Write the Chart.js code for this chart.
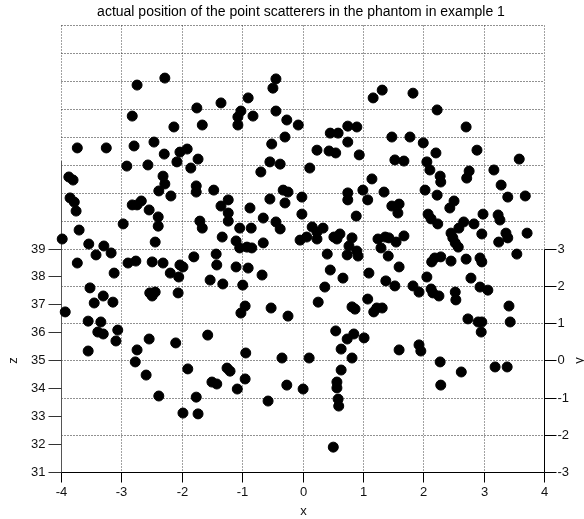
<!DOCTYPE html>
<html>
<head>
<meta charset="utf-8">
<script src="https://cdn.jsdelivr.net/npm/chart.js@4.4.0/dist/chart.umd.min.js"></script>
<style>
  html, body { margin: 0; padding: 0; background: #fff; }
  #wrap { width: 584px; height: 519px; position: relative; }
</style>
</head>
<body>
<div id="wrap"><canvas id="myChart" width="584" height="519"></canvas></div>
<script>
// axis ticks
var xTicks = [-4, -3, -2, -1, 0, 1, 2, 3, 4];
var zTicks = [31, 32, 33, 34, 35, 36, 37, 38, 39];
var yTicks = [-3, -2, -1, 0, 1, 2, 3];
var backGrid = [40, 41, 42, 43, 44, 45, 46];
var zTop = 47;
var zAxisTop = 42.17;

// scatterer positions as seen in the view: [x, z]
var points = [
  [-2.28,45.10],[-2.74,44.85],[-0.44,45.07],[-0.49,44.74],[-0.90,44.39],[-1.35,44.21],
  [-1.75,44.03],[-2.82,43.74],[-1.02,43.92],[-1.07,43.71],[-1.07,43.42],[-0.82,43.74],
  [-0.44,43.92],[-0.26,43.60],[-0.07,43.42],[-1.66,43.42],[-2.13,43.35],[1.32,44.67],
  [1.17,44.39],[1.83,44.56],[2.23,43.96],[2.71,43.35],[0.75,43.38],[0.90,43.35],

  [-3.73,42.60],[-3.25,42.60],[-2.79,42.67],[-2.46,42.81],[-2.29,42.38],[-2.03,42.45],
  [-1.91,42.56],[-2.08,42.10],[-1.73,42.20],[-1.85,41.88],[-2.91,41.95],[-2.56,41.99],
  [-0.29,42.99],[-0.51,42.74],[-0.54,42.10],[-0.37,42.02],[-0.69,41.74],[0.46,43.13],
  [0.59,43.13],[0.75,42.81],[0.24,42.52],[0.44,42.49],[0.55,42.42],[0.94,42.35],
  [1.48,42.99],[1.78,42.99],[2.00,42.78],[2.21,42.42],[1.53,42.17],[1.68,42.13],
  [2.06,42.10],[2.89,42.52],[3.59,42.20],[0.12,41.88],[2.11,41.81],[2.76,41.77],[3.17,41.81],

  [-3.87,41.56],[-3.80,41.45],[-3.85,40.81],[-3.78,40.66],[-3.75,40.34],[-3.70,39.66],
  [-2.31,41.59],[-2.28,41.31],[-2.38,41.06],[-2.18,40.88],[-2.82,40.56],[-2.74,40.56],
  [-2.67,40.70],[-2.54,40.38],[-2.39,40.13],[-2.39,39.80],[-2.97,39.88],[-1.76,41.24],
  [-1.76,41.02],[-1.47,41.09],[-1.23,40.74],[-1.35,40.52],[-1.23,40.27],[-1.23,39.98],
  [-1.70,39.98],[-1.66,39.73],[-0.87,40.45],[-0.65,40.09],[-1.04,39.73],[-0.85,39.73],
  [-0.54,40.77],[-0.32,41.09],[-0.24,41.02],[-0.29,40.63],[-0.01,40.84],[-0.44,39.95],
  [-0.37,39.70],[-0.01,40.23],[1.15,41.49],[1.00,41.09],[1.35,41.02],[1.08,40.74],
  [0.75,40.99],[0.75,40.74],[0.89,40.16],[1.48,40.52],[1.60,40.59],[1.58,40.27],
  [0.16,39.77],[0.34,39.73],[0.24,39.59],[2.28,41.59],[2.29,41.38],[2.03,41.09],
  [2.23,40.91],[2.51,40.70],[2.44,40.45],[2.72,41.52],[3.29,41.27],[3.40,40.84],
  [3.69,40.88],[2.99,40.23],[2.08,40.23],[2.13,40.06],[2.24,39.88],[2.84,39.88],
  [2.67,39.95],[2.59,39.73],[3.24,40.20],[3.27,40.02],

  [-3.98,39.34],[-3.54,39.16],[-3.29,39.09],[-3.42,38.77],[-3.17,38.84],[-3.73,38.48],
  [-2.44,39.23],[-2.89,38.48],[-2.76,38.55],[-2.49,38.52],[-2.31,38.48],[-2.03,38.41],
  [-1.98,38.34],[-1.80,38.70],[-1.43,38.80],[-1.42,38.41],[-1.33,39.41],[-1.10,39.27],
  [-1.04,39.02],[-0.92,39.05],[-0.84,39.02],[-0.65,39.20],[-0.04,39.30],[-1.10,38.34],
  [-0.90,38.30],[0.07,39.41],[0.24,39.34],[0.52,39.41],[0.62,39.52],[0.57,39.34],
  [0.82,39.38],[0.77,39.09],[0.90,38.91],[0.92,38.73],[0.74,38.77],[0.41,38.80],
  [1.25,39.34],[1.37,39.41],[1.43,39.38],[1.55,39.23],[1.68,39.45],[1.30,39.02],
  [1.42,38.73],[1.60,38.34],[2.97,39.52],[2.46,39.55],[2.49,39.38],[2.53,39.20],
  [2.58,39.05],[3.37,39.55],[3.40,39.38],[3.25,39.23],[3.72,39.55],[3.55,38.80],
  [2.14,38.52],[2.19,38.66],[2.29,38.70],[2.46,38.55],[2.71,38.62],[2.94,38.66],[2.97,38.52],

  [-3.12,38.12],[-2.19,38.12],[-2.05,37.98],[-1.53,37.87],[-1.32,37.73],[-0.99,37.69],
  [-0.67,38.05],[-3.52,37.59],[-3.30,37.30],[-3.45,37.05],[-3.14,37.08],[-3.93,36.73],
  [-3.55,36.40],[-3.34,36.37],[-3.39,36.01],[-3.30,35.94],[-3.06,36.08],[-3.09,35.69],
  [-3.55,35.33],[-2.53,37.41],[-2.44,37.44],[-2.49,37.30],[-2.06,37.41],[-2.54,35.76],
  [-2.10,35.62],[-2.74,35.37],[-2.77,34.94],[-2.59,34.47],[-1.57,35.90],[-0.95,36.94],
  [-1.02,36.69],[-0.52,36.87],[-0.24,36.58],[-0.94,35.26],[-0.34,35.08],[-1.90,34.69],
  [-1.25,34.72],[-1.20,34.61],[-1.50,34.22],[-1.42,34.15],[-0.95,34.33],[0.46,38.23],
  [0.67,37.94],[1.10,38.12],[0.37,37.62],[0.26,37.08],[0.82,36.91],[0.87,36.83],
  [1.08,37.19],[1.18,36.73],[1.23,36.87],[1.32,36.87],[1.38,37.84],[1.53,37.66],
  [1.83,37.66],[1.93,37.44],[2.06,37.98],[2.13,37.55],[2.16,37.41],[2.26,37.30],
  [2.53,37.44],[2.54,37.16],[2.79,37.94],[2.94,37.62],[3.07,37.51],[3.42,36.94],
  [3.44,36.37],[2.74,36.48],[2.91,36.37],[2.97,36.37],[2.96,36.01],[0.55,36.05],
  [0.85,35.94],[0.74,35.76],[1.02,35.80],[0.64,35.40],[0.11,35.08],[0.82,35.08],
  [1.60,35.37],[1.93,35.55],[1.96,35.33],[2.28,34.94],[2.63,34.58],[3.19,34.76],
  [3.39,34.76],[0.64,34.65],

  [-1.08,33.97],[-0.26,34.11],[0.01,33.97],[-2.38,33.72],[-1.76,33.68],[-1.98,33.11],
  [-1.73,33.08],[-0.57,33.54],[0.57,34.22],[0.57,34.01],[0.59,33.61],[0.60,33.36],
  [0.51,31.89],[2.29,34.11]
];

var FONT = '"Liberation Sans", Arial, sans-serif';

// y (right axis) spans the same height as z 31..39
function yToZ(v) {
  return zTicks[0] + (v - yTicks[0]) * (zTicks[zTicks.length - 1] - zTicks[0]) / (yTicks[yTicks.length - 1] - yTicks[0]);
}

var boxAxes = {
  id: 'boxAxes',
  beforeDatasetsDraw: function (chart) {
    var ctx = chart.ctx;
    var sx = chart.scales.x, sz = chart.scales.y;
    var px = function (v) { return Math.round(sx.getPixelForValue(v)) + 0.5; };
    var pz = function (v) { return Math.round(sz.getPixelForValue(v)) + 0.5; };
    var x0 = px(xTicks[0]), x1 = px(xTicks[xTicks.length - 1]);
    var zb = pz(zTicks[0]);

    function line(a, b, c, d, color, dash) {
      ctx.beginPath();
      ctx.setLineDash(dash || []);
      ctx.strokeStyle = color;
      ctx.lineWidth = 1;
      ctx.moveTo(a, b);
      ctx.lineTo(c, d);
      ctx.stroke();
    }

    ctx.save();
    var dot = [1, 2];
    // vertical grid
    xTicks.slice(1, -1).forEach(function (v) {
      line(px(v), pz(zTop), px(v), zb, '#444', dot);
    });
    // floor grid (y lines)
    yTicks.slice(1).forEach(function (v) {
      line(x0, pz(yToZ(v)), x1, pz(yToZ(v)), '#222', dot);
    });
    // back wall grid
    backGrid.concat([zTop]).forEach(function (v) {
      line(x0, pz(v), x1, pz(v), '#222', dot);
    });
    line(x0, pz(zTop), x0, pz(zAxisTop), '#444', dot);
    line(x1, pz(zTop), x1, pz(zTicks[zTicks.length - 1]), '#444', dot);

    // solid axes
    line(x0, pz(zAxisTop), x0, zb, '#555');
    line(x0, zb, x1, zb, '#000');
    line(x1, pz(yToZ(yTicks[0])), x1, pz(yToZ(yTicks[yTicks.length - 1])), '#000');

    ctx.font = '13px ' + FONT;
    ctx.fillStyle = '#111';

    // z ticks on the left
    ctx.textAlign = 'right';
    ctx.textBaseline = 'middle';
    zTicks.forEach(function (v) {
      line(x0 - 13, pz(v), x0, pz(v), '#333');
      ctx.fillText(String(v), x0 - 16, pz(v));
    });
    // y ticks on the right
    ctx.textAlign = 'left';
    yTicks.forEach(function (v) {
      line(x1, pz(yToZ(v)), x1 + 12, pz(yToZ(v)), '#000');
      ctx.fillText(String(v), x1 + 13, pz(yToZ(v)));
    });
    // x ticks below
    ctx.textAlign = 'center';
    ctx.textBaseline = 'top';
    xTicks.forEach(function (v) {
      line(px(v), zb, px(v), zb + 10, '#000');
      ctx.fillText(String(v), px(v), zb + 13);
    });

    // axis names
    ctx.fillText('x', px(0), zb + 32);
    ctx.textBaseline = 'middle';
    ctx.save();
    ctx.translate(13, pz(35));
    ctx.rotate(-Math.PI / 2);
    ctx.fillText('z', 0, 0);
    ctx.restore();
    ctx.save();
    ctx.translate(579, pz(35));
    ctx.rotate(-Math.PI / 2);
    ctx.fillText('y', 0, 0);
    ctx.restore();

    // title
    ctx.font = '14px ' + FONT;
    ctx.fillStyle = '#000';
    ctx.fillText('actual position of the point scatterers in the phantom in example 1', (x0 + x1) / 2 - 2, 12);
    ctx.restore();
  }
};

var ctx = document.getElementById('myChart');
var chart = new Chart(ctx, {
  type: 'scatter',
  data: {
    datasets: [{
      data: points.map(function (p) { return { x: p[0], y: p[1] }; }),
      pointRadius: 5,
      pointHoverRadius: 5,
      pointBackgroundColor: '#000',
      pointBorderColor: '#000',
      pointBorderWidth: 1,
      clip: false
    }]
  },
  options: {
    responsive: false,
    animation: false,
    layout: { padding: { left: 61, right: 40, top: 25, bottom: 47 } },
    plugins: { legend: { display: false }, tooltip: { enabled: false } },
    scales: {
      x: { type: 'linear', min: -4, max: 4, display: false },
      y: { type: 'linear', min: 31, max: zTop, display: false }
    }
  },
  plugins: [boxAxes]
});
</script>
</body>
</html>
